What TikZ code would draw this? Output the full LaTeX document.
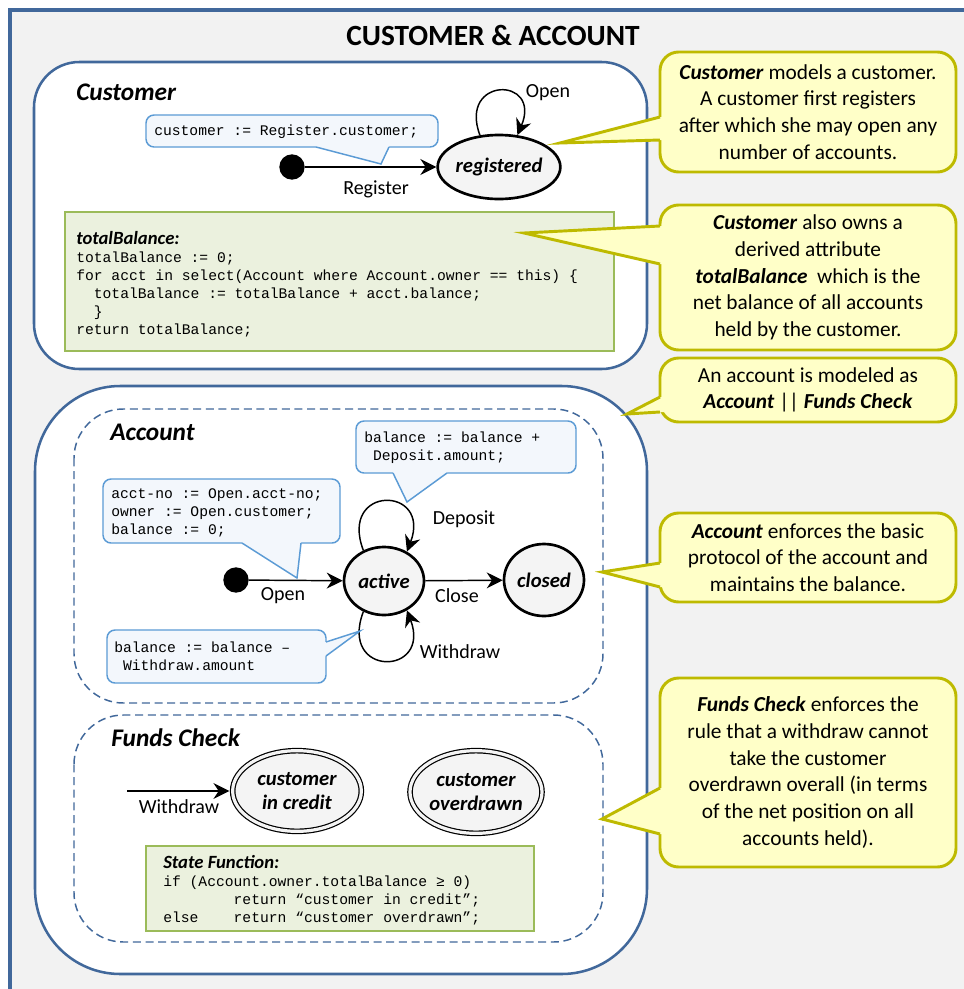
\documentclass[tikz,border=0pt]{standalone}
\usepackage{fontspec}
\setmainfont{Carlito}
\setmonofont{Liberation Mono}
\usetikzlibrary{shapes.geometric,arrows.meta,calc}

\definecolor{frameblue}{RGB}{65,104,155}
\definecolor{panelgray}{RGB}{242,242,242}
\definecolor{notefill}{RGB}{255,255,200}
\definecolor{noteline}{RGB}{190,186,0}
\definecolor{codefill}{RGB}{243,247,252}
\definecolor{codeline}{RGB}{91,155,213}
\definecolor{fnfill}{RGB}{235,241,222}
\definecolor{fnline}{RGB}{155,187,89}
\definecolor{statefill}{RGB}{244,244,244}

% pointer of a callout: base point, tip, base point, shift into the box
\newcommand\calloutTail[5]{%
  \fill[#1 fill] ($#2+#5$) -- #2 -- #3 -- #4 -- ($#4+#5$) -- cycle;
  \draw[#1 line] #2 -- #3 -- #4;}
\newcommand\codelines[1]{\begin{tabular}[t]{@{}l@{}}#1\end{tabular}}

\tikzset{
  panel/.style={draw=frameblue, line width=1.9pt, fill=white},
  region/.style={draw=frameblue, line width=1.1pt, dash pattern=on 6pt off 3.5pt},
  heading/.style={font=\bfseries\itshape\fontsize{19pt}{22pt}\selectfont, anchor=west, inner sep=0},
  note/.style={draw=noteline, fill=notefill, line width=2.2pt, rounded corners=14pt,
    align=center, inner sep=0, minimum width=222pt,
    font=\fontsize{16pt}{20pt}\selectfont},
  note fill/.style={fill=notefill},
  note line/.style={draw=noteline, line width=2.2pt},
  code box/.style={draw=codeline, fill=codefill, line width=1.1pt, rounded corners=6pt},
  code fill/.style={fill=codefill},
  code line/.style={draw=codeline, line width=1.1pt},
  fnbox/.style={draw=fnline, fill=fnfill, line width=1.9pt},
  fnhead/.style={font=\bfseries\itshape\fontsize{14pt}{16pt}\selectfont, anchor=west, inner sep=0},
  code/.style={font=\ttfamily\fontsize{11pt}{13.5pt}\selectfont, anchor=base west, inner sep=0},
  state/.style={ellipse, draw=black, line width=2pt, fill=statefill, inner sep=0,
    font=\bfseries\itshape\fontsize{15.5pt}{19pt}\selectfont},
  dstate/.style={ellipse, draw=black, line width=0.9pt, double=statefill, double distance=2.4pt,
    fill=statefill, inner sep=0, align=center,
    font=\bfseries\itshape\fontsize{15.5pt}{17.5pt}\selectfont},
  initdot/.style={circle, fill=black, minimum size=19pt, inner sep=0},
  trans/.style={draw=black, line width=1.1pt, -{Stealth[length=12pt,width=12pt,inset=4pt]}},
  lbl/.style={font=\fontsize{15pt}{18pt}\selectfont, inner sep=0},
}

\begin{document}
\begin{tikzpicture}[x=0.75pt,y=-0.75pt]
\useasboundingbox (0,0) rectangle (964,989);

% sheet
\fill[panelgray] (10,10) rectangle (964,989);
\draw[frameblue, line width=3pt] (10,989) -- (10,10) -- (964,10);
\node[font=\bfseries\fontsize{22pt}{26pt}\selectfont] (title) at (493,35) {CUSTOMER \& ACCOUNT};

% ---------------- Customer ----------------
\draw[panel, rounded corners=34pt] (34,62) rectangle (647,369);
\node[heading] (custhead) at (76,92) {Customer};

\node[state, minimum width=81pt, minimum height=48pt] (reg) at (499,167) {registered};
\node[initdot] (cdot) at (292,167) {};
\draw[trans] (cdot) -- (reg);
\node[lbl] (lreg) at (376,189) {Register};
\draw[trans] (reg.121) .. controls +(-22,-59) and +(25,-59) .. (reg.60);
\node[lbl] (lopen1) at (548,93) {Open};

\path[code box] (146,115) rectangle (438,147);
\calloutTail{code}{(316,147)}{(381,164)}{(389,147)}{(0,-3)}
\node[code] (regcode) at (154,135) {\codelines{customer := Register.customer;}};

\draw[fnbox] (65,212) rectangle (614,351);
\node[fnhead] (tbhead) at (76,238) {totalBalance:};
\node[code] (tbcode) at (76,262) {\codelines{%
totalBalance := 0;\\
for acct in select(Account where Account.owner == this) \{\\
\phantom{xx}totalBalance := totalBalance + acct.balance;\\
\phantom{xx}\}\\
return totalBalance;}};

% ---------------- Account || Funds Check ----------------
\draw[panel, rounded corners=64pt] (35,386) rectangle (647,974);
\draw[region, rounded corners=37pt] (74,409) rectangle (603,703);
\draw[region, rounded corners=37pt] (74,715) rectangle (603,942);

% Account
\node[heading] (accthead) at (110,432) {Account};
\node[state, minimum width=60pt, minimum height=51pt] (act) at (384,581) {active};
\node[state, minimum width=60pt, minimum height=54pt] (closed) at (544,580) {closed};
\node[initdot] (adot) at (236,580) {};
\draw[trans] (adot) -- (act);
\node[lbl] (lopen2) at (283,596) {Open};
\draw[trans] (act) -- (closed);
\node[lbl] (lclose) at (457,596) {Close};
\draw[trans] (act.124) .. controls +(-25,-66) and +(25,-66) .. (act.52);
\node[lbl] (ldep) at (464,519) {Deposit};
\draw[trans] (act.236) .. controls +(-25,66) and +(25,66) .. (act.308);
\node[lbl] (lwd1) at (460,652) {Withdraw};

\path[code box] (356,421) rectangle (576,473);
\calloutTail{code}{(393,473)}{(407,502)}{(447,473)}{(0,-3)}
\node[code] (depcode) at (364,442) {\codelines{%
balance := balance +\\
\phantom{x}Deposit.amount;}};

\path[code box] (103,479) rectangle (340,543);
\calloutTail{code}{(242,543)}{(297,578)}{(301,543)}{(0,-3)}
\node[code] (opencode) at (111,498) {\codelines{%
acct-no := Open.acct-no;\\
owner := Open.customer;\\
balance := 0;}};

\path[code box] (107,630) rectangle (326,683);
\calloutTail{code}{(326,642)}{(360,631)}{(326,656)}{(-3,0)}
\node[code] (wdcode) at (114,652) {\codelines{%
balance := balance –\\
\phantom{x}Withdraw.amount}};

% Funds Check
\node[heading] (fundshead) at (111,738) {Funds Check};
\node[dstate, minimum width=96.5pt, minimum height=60.5pt] (credit) at (297,791) {customer\\in credit};
\node[dstate, minimum width=98pt, minimum height=62pt] (overdrawn) at (476,792) {customer\\overdrawn};
\coordinate (wsrc) at (127,791);
\draw[trans, shorten >=2pt] (wsrc) -- (credit);
\node[lbl] (lwd2) at (179,807) {Withdraw};

\draw[fnbox] (146,846) rectangle (534,931);
\node[fnhead] (sfhead) at (163,862) {State Function:};
\node[code] (sfcode) at (163,886) {\codelines{%
if (Account.owner.totalBalance ≥ 0)\\
\phantom{xxxxxxxx}return “customer in credit”;\\
else\phantom{xxxx}return “customer overdrawn”;}};

% ---------------- notes ----------------
\node[note, minimum height=90pt] (n1) at (808,112) {%
\textbf{\textit{Customer}} models a customer.\\
A customer first registers\\
after which she may open any\\
number of accounts.};
\calloutTail{note}{(660,117)}{(560,143)}{(660,140)}{(4,0)}

\node[note, minimum height=108.75pt] (n2) at (808,277.5) {%
\textbf{\textit{Customer}} also owns a\\
derived attribute\\
\textbf{\textit{totalBalance}}\ \ which is the\\
net balance of all accounts\\
held by the customer.};
\calloutTail{note}{(660,226)}{(524,233)}{(660,264)}{(4,0)}

\node[note, minimum height=48pt] (n3) at (808,390) {%
An account is modeled as\\
\textbf{\textit{Account}} || \textbf{\textit{Funds Check}}};
\calloutTail{note}{(660,397)}{(627,414)}{(660,412)}{(4,0)}

\node[note, minimum height=66.75pt] (n4) at (808,557.5) {%
\textbf{\textit{Account}} enforces the basic\\
protocol of the account and\\
maintains the balance.};
\calloutTail{note}{(660,563)}{(602,572)}{(660,587)}{(4,0)}

\node[note, minimum height=141.75pt] (n5) at (808,772.5) {%
\textbf{\textit{Funds Check}} enforces the\\
rule that a withdraw cannot\\
take the customer\\
overdrawn overall (in terms\\
of the net position on all\\
accounts held).};
\calloutTail{note}{(660,788)}{(602,819)}{(660,834)}{(4,0)}

\end{tikzpicture}
\end{document}
